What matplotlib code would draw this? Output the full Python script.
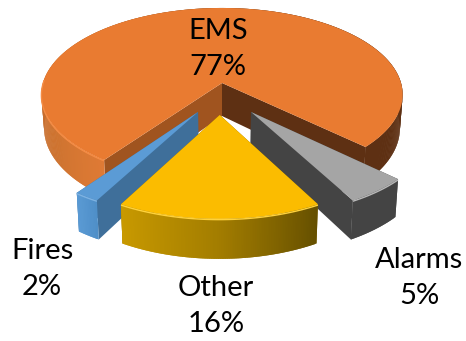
import numpy as np
import matplotlib.pyplot as plt
from matplotlib.colors import to_rgb
from matplotlib.patches import Polygon

labels = ['EMS', 'Alarms', 'Other', 'Fires']
shares = [77, 5, 16, 2]

plt.rcParams['font.family'] = ['Lato', 'DejaVu Sans']

# fake 3d view, tuned by eye against the picture
CX, CY = 222, 83
RX, RY = 179, 85
PERSP = 0.133
DEPTH = 33
START = 216  # degrees clockwise from 12 o'clock
DRAW_ORDER = [0, 3, 1, 2]

offsets = [(0, 0), (0.155, 0.326), (-0.012, 0.358), (-0.128, 0.326)]
radii = [1.0, 0.96, 0.96, 0.96]
tops = ['#E97B31', '#A5A5A5', '#FBBC00', '#5B9BD5']
cut_start = ['#5E3013', '#444444', '#8A6A00', '#3F6F9A']
cut_end = ['#A0541F', '#444444', '#8A6A00', '#3F6F9A']
rims = ['#F58C45', '#B8B8B8', '#FFD23C', '#7DB2E2']
# shading along each outer wall, as fraction of the slice's sweep
side_stops = [
    ([0, 0.08, 0.2, 0.3, 0.74, 0.8, 1], ['#DF7A35', '#CF7430', '#C66C2C', '#C66C2C', '#5E3013', '#5E3013', '#5E3013']),
    ([0, 1], ['#444444', '#444444']),
    ([0, 0.5, 1], ['#665000', '#A37D00', '#C99A00']),
    ([0, 1], ['#4F8FC8', '#5B9BD5']),
]
label_xy = [(218, 49), (419, 278), (216, 306), (42, 269)]


def project(u, v, drop=0.0):
    s = 1 / (1 - PERSP * v)
    # lower rim shrinks a little towards the middle
    k = 1 - 0.015 * (drop > 0)
    return CX + RX * u * s * k, CY + RY * v * s + drop * s


def wedge(a0, a1, r, off, n):
    t = np.radians(np.linspace(a0, a1, n))
    return off[0] + r * np.sin(t), off[1] - r * np.cos(t)


def strip(u, v):
    xt, yt = project(u, v)
    xb, yb = project(u, v, DEPTH)
    return np.column_stack([np.r_[xt, xb[::-1]], np.r_[yt, yb[::-1]]])


def lerp_colour(frac, stops):
    rgb = np.array([to_rgb(c) for c in stops[1]])
    return [np.interp(frac, stops[0], rgb[:, i]) for i in range(3)]


fig = plt.figure(figsize=(4.66, 3.41), dpi=100)
ax = fig.add_axes([0, 0, 1, 1])
ax.set_xlim(0, 466)
ax.set_ylim(341, 0)
ax.axis('off')

starts = START + np.r_[0, np.cumsum(shares)[:-1]] * 3.6

for i in DRAW_ORDER:
    a0 = starts[i]
    a1 = a0 + shares[i] * 3.6
    off, r = offsets[i], radii[i]
    n = max(int(a1 - a0), 2) * 2

    # the two cut faces, the one further back goes down first
    faces = [(a0, cut_end[i]), (a1, cut_start[i])]
    faces.sort(key=lambda f: -np.cos(np.radians(f[0])))
    for a, colour in faces:
        u, v = wedge(a, a, r, off, 2)
        u = np.r_[off[0], u[0]]
        v = np.r_[off[1], v[0]]
        ax.add_patch(Polygon(strip(u, v), fc=colour, ec='none'))

    # outer wall, strips overlap so the shading shows no seams
    u, v = wedge(a0, a1, r, off, n + 1)
    mids = np.linspace(a0, a1, n + 1)
    for j in range(n):
        colour = lerp_colour(j / n, side_stops[i])
        ax.add_patch(Polygon(strip(u[j:j + 3], v[j:j + 3]), fc=colour, ec='none'))

    # top face
    xt, yt = project(np.r_[off[0], u], np.r_[off[1], v])
    ax.add_patch(Polygon(np.column_stack([xt, yt]), fc=tops[i], ec='none'))

    # light bevel on the part of the rim that faces the viewer
    front = -np.cos(np.radians(mids)) > -0.05
    if i == 0:
        front = front & (np.sin(np.radians(mids)) < 0)
    xr, yr = project(u[front], v[front])
    ax.plot(xr, yr + 0.8, color=rims[i], lw=1.0, solid_capstyle='butt')

for name, share, (x, y) in zip(labels, shares, label_xy):
    ax.text(x, y, f'{name}\n{share}%', ha='center', va='center', fontsize=21,
            color='black', linespacing=1.5)

fig.savefig('out.png', dpi=100)
